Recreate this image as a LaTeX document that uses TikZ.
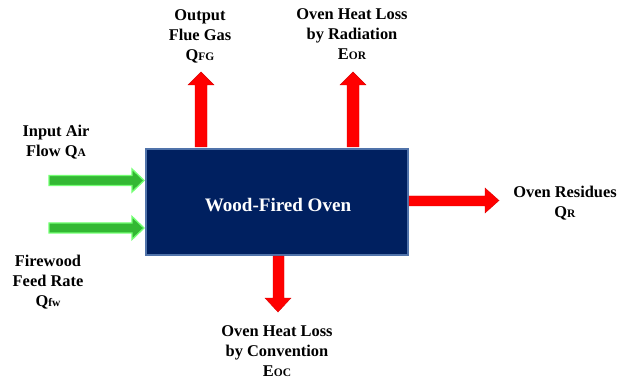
\documentclass[tikz,border=0pt]{standalone}
\usepackage{fontspec}
\setmainfont{Liberation Serif}
\begin{document}
\begin{tikzpicture}[x=0.75pt,y=-0.75pt,
  lbl/.style={font=\fontsize{12.3}{15}\selectfont\bfseries, align=center, inner sep=0pt},
  redarrow/.style={fill=red, draw=red!85!black, line width=0.3pt},
  greenarrow/.style={fill=green!65!black!80!white, draw=green!55!white, line width=1pt},
  ovenbox/.style={fill={rgb,255:red,0;green,32;blue,96}, draw={rgb,255:red,80;green,115;blue,170}, line width=1.6pt}]
\useasboundingbox (0,0) rectangle (632,381);
% oven box
\node[ovenbox, minimum width=262*0.75pt, minimum height=106*0.75pt, inner sep=0pt, anchor=north west] (oven) at (145,148) {};
\node[font=\fontsize{14.3}{17}\selectfont\bfseries, text=white, inner sep=0pt] (ovenlbl) at (278,205) {Wood-Fired Oven};
% green input arrows
\path[greenarrow] (49,175.5) -- (132,175.5) -- (132,169) -- (144,180.5) -- (132,192) -- (132,185.5) -- (49,185.5) -- cycle;
\path[greenarrow] (49,223) -- (132,223) -- (132,216.5) -- (144,228) -- (132,239.5) -- (132,233) -- (49,233) -- cycle;
% red up arrows
\path[redarrow] (195,147) -- (195,85) -- (188,85) -- (201,72) -- (214,85) -- (207,85) -- (207,147) -- cycle;
\path[redarrow] (347,147) -- (347,85) -- (340,85) -- (353,72) -- (366,85) -- (359,85) -- (359,147) -- cycle;
% red right arrow
\path[redarrow] (409,196) -- (485,196) -- (485,188) -- (499,200.5) -- (485,213) -- (485,206) -- (409,206) -- cycle;
% red down arrow
\path[redarrow] (273,256) -- (273,298) -- (265,298) -- (278,312) -- (291,298) -- (284,298) -- (284,256) -- cycle;
% labels
\newcommand{\sbs}[1]{{\fontsize{8.6}{10}\selectfont #1}}
\node[lbl] (inair) at (56,142) {Input Air\\Flow Q\sbs{A}};
\node[lbl] (fw) at (48,282) {Firewood\\Feed Rate\\Q\sbs{fw}};
\node[lbl] (fg) at (200,36) {Output\\Flue Gas\\Q\sbs{FG}};
\node[lbl] (eor) at (352,34) {Oven Heat Loss\\by Radiation\\E\sbs{OR}};
\node[lbl] (res) at (565,203) {Oven Residues\\Q\sbs{R}};
\node[lbl] (eoc) at (277,351) {Oven Heat Loss\\by Convention\\E\sbs{OC}};
\end{tikzpicture}
\end{document}
